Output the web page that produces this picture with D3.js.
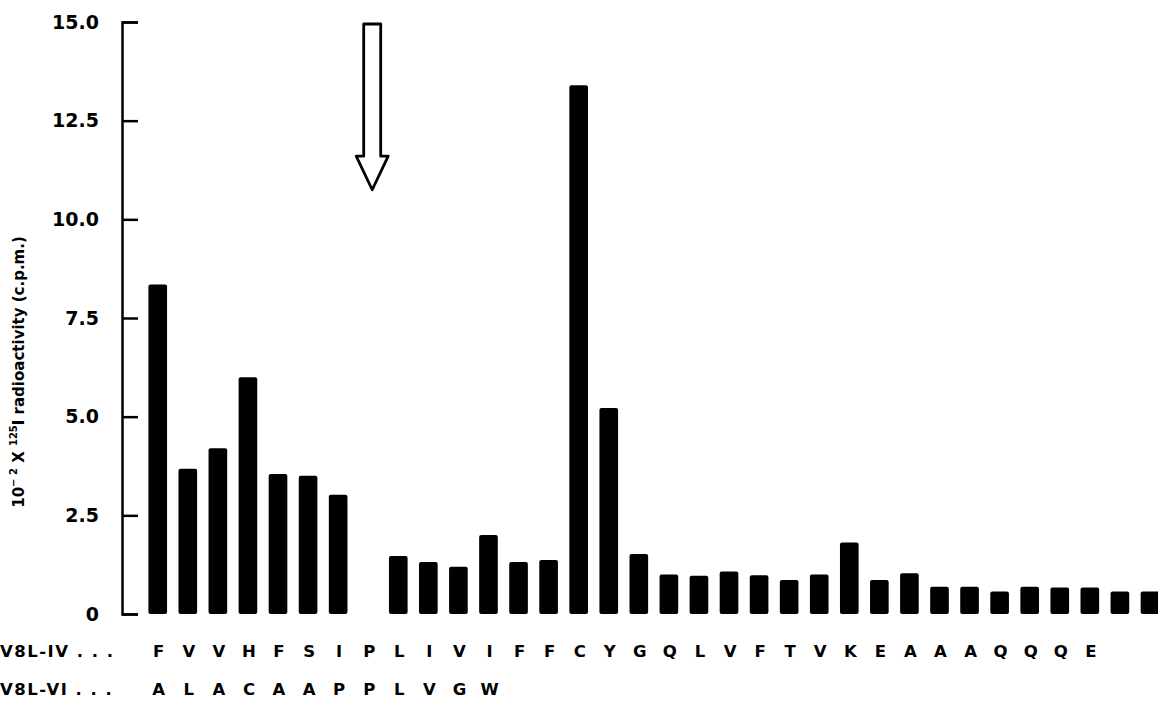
<!DOCTYPE html>
<html>
<head>
<meta charset="utf-8">
<script src="https://cdn.jsdelivr.net/npm/d3@7"></script>
<style>
  body { margin: 0; background: #fff; }
  svg { display: block; }
  .tick text { font-family: "DejaVu Sans", sans-serif; font-weight: bold; font-size: 19px; fill: #000; }
  .seq { font-family: "DejaVu Sans", sans-serif; font-weight: bold; font-size: 16.5px; fill: #000; }
</style>
</head>
<body>
<div id="chart"></div>
<script>
// residue positions along the peptide (34 fractions)
var positions = d3.range(1, 35);

// 10^-2 x 125I radioactivity per fraction
var counts = [8.35, 3.68, 4.2, 6.0, 3.55, 3.5, 3.02, 0, 1.47, 1.32, 1.2, 2.0, 1.32, 1.37,
              13.4, 5.22, 1.52, 1.0, 0.97, 1.08, 0.98, 0.86, 1.0, 1.81, 0.86, 1.03,
              0.69, 0.69, 0.57, 0.69, 0.67, 0.67, 0.57, 0.57];

var seqIV = ["F","V","V","H","F","S","I","P","L","I","V","I","F","F","C","Y","G",
             "Q","L","V","F","T","V","K","E","A","A","A","Q","Q","Q","E"];
var seqVI = ["A","L","A","C","A","A","P","P","L","V","G","W"];

var yTicks = [0, 2.5, 5.0, 7.5, 10.0, 12.5, 15.0];
var arrowAt = 8; // position of the P marked by the arrow

var width = 1158, height = 703;

var svg = d3.select("#chart").append("svg")
    .attr("width", width)
    .attr("height", height);

var x = d3.scaleBand().domain(positions).range([142.7, 1165])
    .paddingInner(0.38).paddingOuter(0.19);
var y = d3.scaleLinear().domain([0, 15]).range([614, 22]);

// y axis, ticks pointing into the plot
var yAxis = d3.axisLeft(y)
    .tickValues(yTicks)
    .tickSizeInner(-16)
    .tickSizeOuter(-16)
    .tickPadding(23)
    .tickFormat(function(d) { return d === 0 ? "0" : d3.format(".1f")(d); });

var gy = svg.append("g")
    .attr("transform", "translate(122,0)")
    .call(yAxis);
gy.select(".domain").attr("stroke", "#000").attr("stroke-width", 2.5);
gy.selectAll(".tick line").attr("stroke", "#000").attr("stroke-width", 2.5);

// axis title
var title = svg.append("text")
    .attr("transform", "translate(24,372) rotate(-90)")
    .attr("text-anchor", "middle")
    .style("font-family", "DejaVu Sans, sans-serif")
    .style("font-weight", "bold")
    .style("font-size", "15px");
title.append("tspan").text("10");
title.append("tspan").attr("dy", -7).style("font-size", "10px").text("\u2212 2");
title.append("tspan").attr("dy", 7).text(" X ");
title.append("tspan").attr("dy", -7).style("font-size", "10px").text("125");
title.append("tspan").attr("dy", 7).text("I radioactivity (c.p.m.)");

// bars
svg.selectAll(".bar")
    .data(counts)
    .enter().append("rect")
    .attr("class", "bar")
    .attr("x", function(d, i) { return x(positions[i]); })
    .attr("y", function(d) { return y(d); })
    .attr("width", x.bandwidth())
    .attr("height", function(d) { return y(0) - y(d); })
    .attr("rx", 2)
    .attr("fill", "#000");

// hollow arrow over the P
var ax = x(arrowAt) + x.bandwidth() / 2 + 4;
var arrow = d3.path();
arrow.moveTo(ax - 8.5, y(15) + 2);
arrow.lineTo(ax + 8.5, y(15) + 2);
arrow.lineTo(ax + 8.5, y(11.6));
arrow.lineTo(ax + 16, y(11.6));
arrow.lineTo(ax, y(10.75));
arrow.lineTo(ax - 16, y(11.6));
arrow.lineTo(ax - 8.5, y(11.6));
arrow.closePath();
svg.append("path")
    .attr("d", arrow.toString())
    .attr("fill", "none")
    .attr("stroke", "#000")
    .attr("stroke-width", 2.8)
    .attr("stroke-linejoin", "round");

// sequence rows
var rows = [{label: "V8L-IV . . .", seq: seqIV, yy: 657},
            {label: "V8L-VI . . .", seq: seqVI, yy: 695}];

rows.forEach(function(r) {
  svg.append("text")
    .attr("class", "seq")
    .attr("x", 0)
    .attr("y", r.yy)
    .style("letter-spacing", "1.5px")
    .text(r.label);
  svg.selectAll(null)
    .data(r.seq)
    .enter().append("text")
    .attr("class", "seq")
    .attr("x", function(d, i) { return x(positions[i]) + x.bandwidth() / 2 + 1; })
    .attr("y", r.yy)
    .attr("text-anchor", "middle")
    .text(function(d) { return d; });
});
</script>
</body>
</html>
